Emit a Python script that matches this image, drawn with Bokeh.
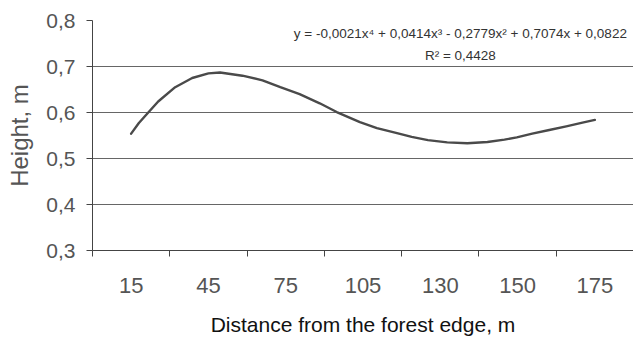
from bokeh.plotting import figure
from bokeh.models import FixedTicker, CustomJSTickFormatter, Label, Range1d
from bokeh.embed import file_html
from bokeh.resources import INLINE

# Categories on the x axis (distance from the forest edge, m)
categories = ["15", "45", "75", "105", "130", "150", "175"]
cat_pos = [1, 2, 3, 4, 5, 6, 7]

# Trend curve (x in category units, y = height, m)
curve_x = [1.0, 1.10, 1.21, 1.35, 1.57, 1.79, 2.00, 2.15, 2.44, 2.70,
           2.93, 3.18, 3.44, 3.66, 3.96, 4.18, 4.44, 4.63, 4.84, 5.09,
           5.35, 5.61, 5.83, 5.99, 6.19, 6.41, 6.63, 6.84, 7.0]
curve_y = [0.554, 0.577, 0.598, 0.624, 0.655, 0.675, 0.685, 0.687, 0.680, 0.670,
           0.655, 0.640, 0.620, 0.601, 0.579, 0.566, 0.555, 0.547, 0.540, 0.535,
           0.533, 0.536, 0.541, 0.546, 0.554, 0.562, 0.570, 0.578, 0.584]

y_ticks = [0.3, 0.4, 0.5, 0.6, 0.7, 0.8]
equation = "y = -0,0021x\u2074 + 0,0414x\u00b3 - 0,2779x\u00b2 + 0,7074x + 0,0822"
r_squared = "R\u00b2 = 0,4428"

p = figure(width=633, height=345, output_backend="svg", toolbar_location=None,
           x_range=Range1d(0.5, 7.5), y_range=Range1d(0.3, 0.8),
           min_border_left=92, min_border_right=0, min_border_top=20,
           min_border_bottom=95, background_fill_color="white",
           border_fill_color="white")
p.outline_line_color = None

p.line(curve_x, curve_y, line_color="#4a4a4a", line_width=2.4,
       line_join="round", line_cap="round")

# x axis
xa = p.xaxis[0]
xa.ticker = FixedTicker(ticks=cat_pos, minor_ticks=[c - 0.5 for c in cat_pos] + [7.5])
xa.major_label_overrides = {c: lab for c, lab in zip(cat_pos, categories)}
xa.major_tick_line_color = None
xa.major_tick_out = 0
xa.major_tick_in = 0
xa.minor_tick_out = 6
xa.minor_tick_in = 0
xa.minor_tick_line_color = "#444444"
xa.axis_line_color = "#444444"
xa.major_label_text_font = "Liberation Sans"
xa.major_label_text_font_size = "22px"
xa.major_label_text_color = "#555555"
xa.major_label_standoff = 21
xa.axis_label = "Distance from the forest edge, m"
xa.axis_label_text_font = "Liberation Sans"
xa.axis_label_text_font_style = "normal"
xa.axis_label_text_font_size = "21px"
xa.axis_label_text_color = "#111111"
xa.axis_label_standoff = 17

# y axis
ya = p.yaxis[0]
ya.ticker = FixedTicker(ticks=y_ticks)
ya.formatter = CustomJSTickFormatter(code="return tick.toFixed(1).replace('.', ',');")
ya.minor_tick_line_color = None
ya.major_tick_out = 6
ya.major_tick_in = 0
ya.major_tick_line_color = "#444444"
ya.axis_line_color = "#444444"
ya.major_label_text_font = "Liberation Sans"
ya.major_label_text_font_size = "21px"
ya.major_label_text_color = "#555555"
ya.major_label_standoff = 11
ya.axis_label = "Height, m"
ya.axis_label_text_font = "Liberation Sans"
ya.axis_label_text_font_style = "normal"
ya.axis_label_text_font_size = "24px"
ya.axis_label_text_color = "#555555"
ya.axis_label_standoff = 10

p.xgrid.grid_line_color = None
p.ygrid.grid_line_color = "#666666"
p.ygrid.grid_line_width = 1

p.add_layout(Label(x=5.26, y=0.772, text=equation, text_align="center",
                   text_baseline="middle", text_font="Liberation Sans",
                   text_font_size="13.5px", text_color="#333333"))
p.add_layout(Label(x=5.26, y=0.724, text=r_squared, text_align="center",
                   text_baseline="middle", text_font="Liberation Sans",
                   text_font_size="13.5px", text_color="#333333"))

open("out.html", "w").write(file_html(p, INLINE))
